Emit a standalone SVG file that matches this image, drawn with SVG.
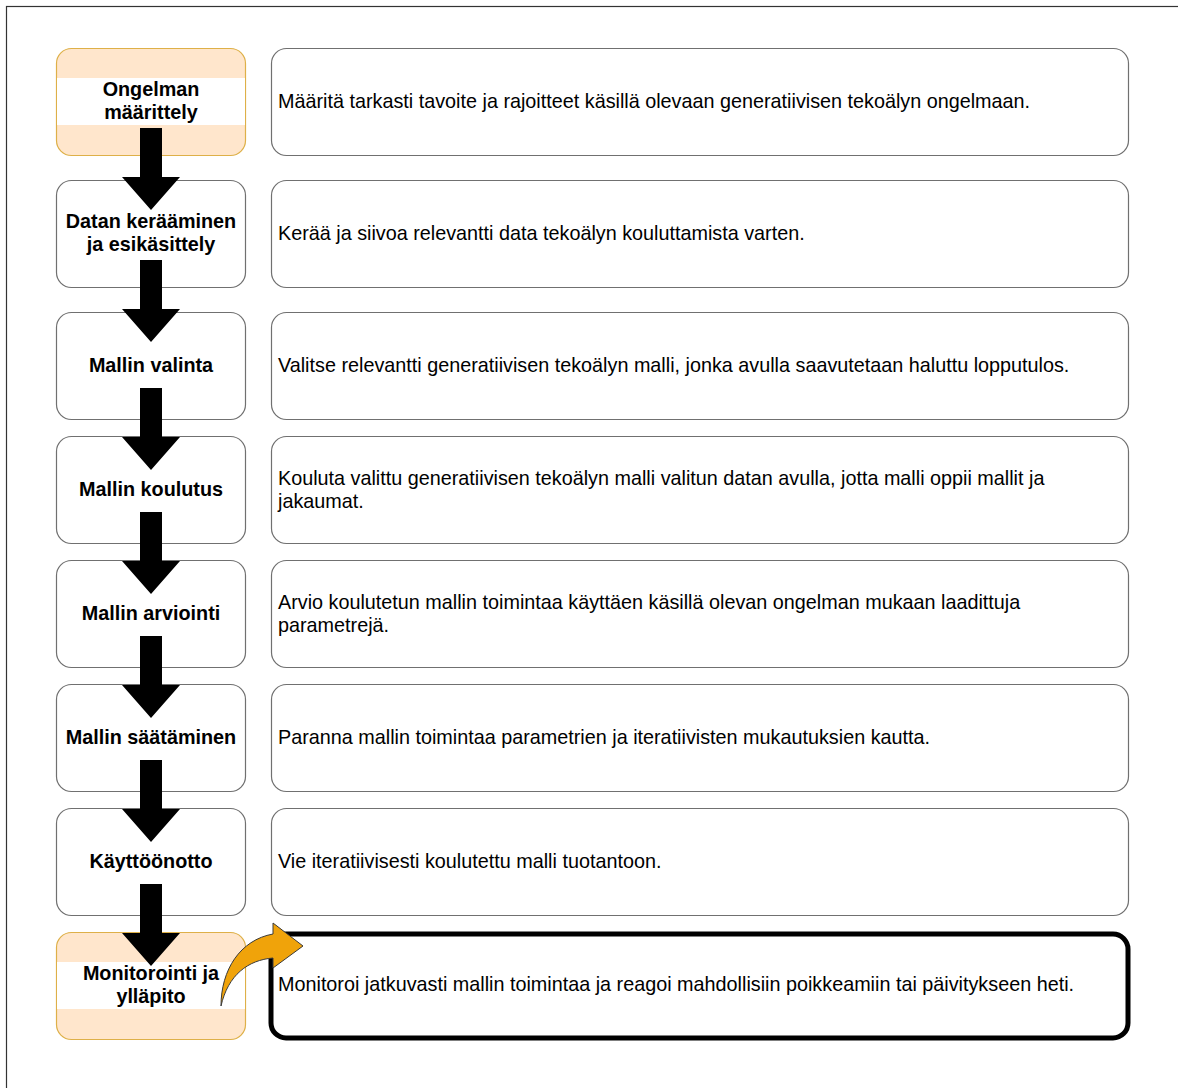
<svg xmlns="http://www.w3.org/2000/svg" width="1178" height="1088" viewBox="0 0 1178 1088">
  <style>
    .step { fill: #ffffff; stroke: #707070; stroke-width: 1.2; }
    .step-hl { fill: #ffe6cc; stroke: #deb048; stroke-width: 1.2; }
    .desc { fill: #ffffff; stroke: #707070; stroke-width: 1.2; }
    .desc-hl { fill: #ffffff; stroke: #000000; stroke-width: 5; }
    .band { fill: #ffffff; }
    .lbl { font-family: "Liberation Sans", Arial, sans-serif; font-size: 19.8px; font-weight: bold; fill: #000; text-anchor: middle; }
    .txt { font-family: "Liberation Sans", Arial, sans-serif; font-size: 19.8px; fill: #000; }
    .flow { fill: #000000; }
    .jump { fill: #f0a30a; stroke: #3a3a3a; stroke-width: 1; }
  </style>
  <defs>
    <!-- block arrow pointing down, origin at tail centre -->
    <path id="blockArrow" d="M-11,0 L11,0 L11,49 L29,49 L0,82 L-29,49 L-11,49 Z"/>
  </defs>

  <rect x="0" y="0" width="1178" height="1088" fill="#ffffff"/>
  <!-- page frame -->
  <rect x="6.5" y="6.5" width="1300" height="1200" fill="none" stroke="#333333" stroke-width="1.2"/>

  <!-- steps -->
  <g id="step1">
    <rect class="step-hl" x="56.5" y="48.5" width="189" height="107" rx="15"/>
    <rect class="band" x="57" y="78" width="188" height="47"/>
    <text class="lbl" x="151" y="96">Ongelman</text>
    <text class="lbl" x="151" y="119">määrittely</text>
  </g>
  <g id="desc1">
    <rect class="desc" x="271.5" y="48.5" width="857" height="107" rx="15"/>
    <text class="txt" x="278" y="108">Määritä tarkasti tavoite ja rajoitteet käsillä olevaan generatiivisen tekoälyn ongelmaan.</text>
  </g>

  <g id="step2">
    <rect class="step" x="56.5" y="180.5" width="189" height="107" rx="15"/>
    <text class="lbl" x="151" y="228">Datan kerääminen</text>
    <text class="lbl" x="151" y="251">ja esikäsittely</text>
  </g>
  <g id="desc2">
    <rect class="desc" x="271.5" y="180.5" width="857" height="107" rx="15"/>
    <text class="txt" x="278" y="240">Kerää ja siivoa relevantti data tekoälyn kouluttamista varten.</text>
  </g>

  <g id="step3">
    <rect class="step" x="56.5" y="312.5" width="189" height="107" rx="15"/>
    <text class="lbl" x="151" y="372">Mallin valinta</text>
  </g>
  <g id="desc3">
    <rect class="desc" x="271.5" y="312.5" width="857" height="107" rx="15"/>
    <text class="txt" x="278" y="372">Valitse relevantti generatiivisen tekoälyn malli, jonka avulla saavutetaan haluttu lopputulos.</text>
  </g>

  <g id="step4">
    <rect class="step" x="56.5" y="436.5" width="189" height="107" rx="15"/>
    <text class="lbl" x="151" y="496">Mallin koulutus</text>
  </g>
  <g id="desc4">
    <rect class="desc" x="271.5" y="436.5" width="857" height="107" rx="15"/>
    <text class="txt" x="278" y="485">Kouluta valittu generatiivisen tekoälyn malli valitun datan avulla, jotta malli oppii mallit ja</text>
    <text class="txt" x="278" y="508">jakaumat.</text>
  </g>

  <g id="step5">
    <rect class="step" x="56.5" y="560.5" width="189" height="107" rx="15"/>
    <text class="lbl" x="151" y="620">Mallin arviointi</text>
  </g>
  <g id="desc5">
    <rect class="desc" x="271.5" y="560.5" width="857" height="107" rx="15"/>
    <text class="txt" x="278" y="609">Arvio koulutetun mallin toimintaa käyttäen käsillä olevan ongelman mukaan laadittuja</text>
    <text class="txt" x="278" y="632">parametrejä.</text>
  </g>

  <g id="step6">
    <rect class="step" x="56.5" y="684.5" width="189" height="107" rx="15"/>
    <text class="lbl" x="151" y="744">Mallin säätäminen</text>
  </g>
  <g id="desc6">
    <rect class="desc" x="271.5" y="684.5" width="857" height="107" rx="15"/>
    <text class="txt" x="278" y="744">Paranna mallin toimintaa parametrien ja iteratiivisten mukautuksien kautta.</text>
  </g>

  <g id="step7">
    <rect class="step" x="56.5" y="808.5" width="189" height="107" rx="15"/>
    <text class="lbl" x="151" y="868">Käyttöönotto</text>
  </g>
  <g id="desc7">
    <rect class="desc" x="271.5" y="808.5" width="857" height="107" rx="15"/>
    <text class="txt" x="278" y="868">Vie iteratiivisesti koulutettu malli tuotantoon.</text>
  </g>

  <g id="step8">
    <rect class="step-hl" x="56.5" y="932.5" width="189" height="107" rx="15"/>
    <rect class="band" x="57" y="962" width="188" height="47"/>
    <text class="lbl" x="151" y="980">Monitorointi ja</text>
    <text class="lbl" x="151" y="1003">ylläpito</text>
  </g>
  <g id="desc8">
    <rect class="desc-hl" x="271" y="934" width="857" height="104" rx="15"/>
    <text class="txt" x="278" y="991">Monitoroi jatkuvasti mallin toimintaa ja reagoi mahdollisiin poikkeamiin tai päivitykseen heti.</text>
  </g>

  <!-- connectors -->
  <g id="connectors">
    <use href="#blockArrow" class="flow" x="151" y="128"/>
    <use href="#blockArrow" class="flow" x="151" y="260"/>
    <use href="#blockArrow" class="flow" x="151" y="388"/>
    <use href="#blockArrow" class="flow" x="151" y="512"/>
    <use href="#blockArrow" class="flow" x="151" y="636"/>
    <use href="#blockArrow" class="flow" x="151" y="760"/>
    <use href="#blockArrow" class="flow" x="151" y="884"/>
    <path class="jump" d="M221,1006 C221,970 240,940 273,934 L273,923 L303,946 L273,968 L273,958 C248,960 228,975 221,1006 Z"/>
  </g>
</svg>
